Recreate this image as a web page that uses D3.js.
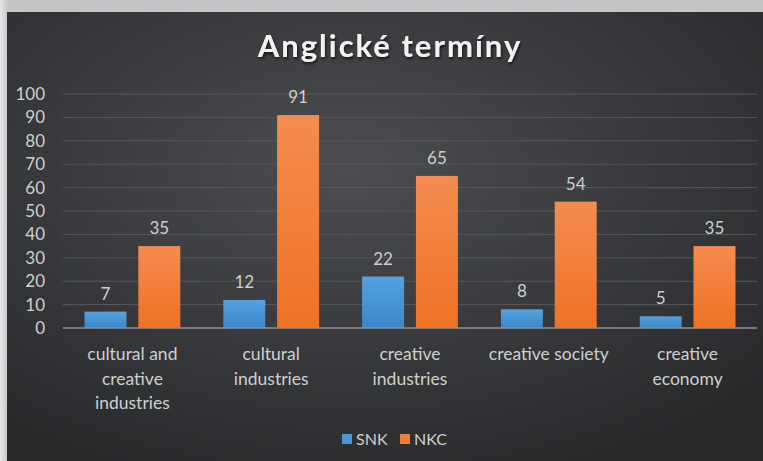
<!DOCTYPE html>
<html>
<head>
<meta charset="utf-8">
<script src="https://cdn.jsdelivr.net/npm/d3@7"></script>
<style>
  body { margin: 0; background: #c4c5c7; }
  svg { display: block; }
  text { font-family: Lato, "Open Sans", sans-serif; }
</style>
</head>
<body>
<div id="chart"></div>
<script>
var categories = [
  ["cultural and", "creative", "industries"],
  ["cultural", "industries"],
  ["creative", "industries"],
  ["creative society"],
  ["creative", "economy"]
];
var series = ["SNK", "NKC"];
var snk = [7, 12, 22, 8, 5];
var nkc = [35, 91, 65, 54, 35];
var yTicks = [0, 10, 20, 30, 40, 50, 60, 70, 80, 90, 100];

var svgWidth = 763, svgHeight = 461;
var margin = { top: 94, right: 6, bottom: 133, left: 63 };
var width = svgWidth - margin.left - margin.right;
var height = svgHeight - margin.top - margin.bottom;
var textColor = "#cfcfcf";

var svg = d3.select("#chart").append("svg")
  .attr("width", svgWidth)
  .attr("height", svgHeight);

var defs = svg.append("defs");

// panel background
var bg = defs.append("radialGradient").attr("id", "bg")
  .attr("cx", "45%").attr("cy", "35%").attr("r", "75%");
bg.append("stop").attr("offset", "0%").attr("stop-color", "#4b4d50");
bg.append("stop").attr("offset", "100%").attr("stop-color", "#26282a");

var side = defs.append("linearGradient").attr("id", "side")
  .attr("x1", 0).attr("x2", 1).attr("y1", 0).attr("y2", 0);
side.append("stop").attr("offset", "0%").attr("stop-color", "#e6e7e8");
side.append("stop").attr("offset", "100%").attr("stop-color", "#c4c5c7");

var gBlue = defs.append("linearGradient").attr("id", "gBlue")
  .attr("x1", 0).attr("x2", 0).attr("y1", 0).attr("y2", 1);
gBlue.append("stop").attr("offset", "0%").attr("stop-color", "#55a2df");
gBlue.append("stop").attr("offset", "100%").attr("stop-color", "#3a86c9");

var gOrange = defs.append("linearGradient").attr("id", "gOrange")
  .attr("x1", 0).attr("x2", 0).attr("y1", 0).attr("y2", 1);
gOrange.append("stop").attr("offset", "0%").attr("stop-color", "#f58c50");
gOrange.append("stop").attr("offset", "100%").attr("stop-color", "#ee7224");

var shadow = defs.append("filter").attr("id", "shadow")
  .attr("x", "-10%").attr("y", "-20%").attr("width", "130%").attr("height", "160%");
shadow.append("feDropShadow").attr("dx", 1).attr("dy", 2)
  .attr("stdDeviation", 1.5).attr("flood-color", "#000").attr("flood-opacity", 0.7);

svg.append("rect").attr("x", 0).attr("y", 0).attr("width", 8).attr("height", svgHeight)
  .attr("fill", "url(#side)");
svg.append("rect").attr("x", 7).attr("y", 12)
  .attr("width", svgWidth - 7).attr("height", svgHeight - 12)
  .attr("fill", "url(#bg)");

svg.append("text")
  .attr("x", 390).attr("y", 57)
  .attr("text-anchor", "middle")
  .attr("font-size", 31).attr("font-weight", "bold")
  .attr("letter-spacing", 2)
  .attr("fill", "#f2f2f2")
  .attr("filter", "url(#shadow)")
  .text("Anglické termíny");

var chartGroup = svg.append("g")
  .attr("transform", `translate(${margin.left}, ${margin.top})`);

var x0 = d3.scaleBand().domain(d3.range(categories.length)).range([0, width]).paddingInner(0.31).paddingOuter(0.155);
var x1 = d3.scaleBand().domain(series).range([0, x0.bandwidth()]).paddingInner(0.22);
var y = d3.scaleLinear().domain([0, 100]).range([height, 0]);

// gridlines
chartGroup.append("g").selectAll("line")
  .data(yTicks.slice(1))
  .enter().append("line")
  .attr("x1", 0).attr("x2", width)
  .attr("y1", d => y(d)).attr("y2", d => y(d))
  .attr("stroke", "#56585b").attr("stroke-width", 1);

// y axis labels
var leftAxis = d3.axisLeft(y).tickValues(yTicks).tickSize(0).tickPadding(18);
var yAxis = chartGroup.append("g").call(leftAxis);
yAxis.select(".domain").remove();
yAxis.selectAll("text").attr("font-size", 17).attr("fill", textColor)
  .attr("font-family", "Lato, 'Open Sans', sans-serif");

var groups = chartGroup.selectAll(".grp")
  .data(categories.map((c, i) => ({ i: i, vals: [snk[i], nkc[i]] })))
  .enter().append("g")
  .attr("transform", d => `translate(${x0(d.i)},0)`);

groups.selectAll("rect")
  .data(d => d.vals.map((v, k) => ({ key: series[k], v: v })))
  .enter().append("rect")
  .attr("x", d => x1(d.key))
  .attr("y", d => y(d.v))
  .attr("width", x1.bandwidth())
  .attr("height", d => height - y(d.v))
  .attr("fill", d => d.key === "SNK" ? "url(#gBlue)" : "url(#gOrange)");

groups.selectAll(".val")
  .data(d => d.vals.map((v, k) => ({ key: series[k], v: v })))
  .enter().append("text")
  .attr("x", d => x1(d.key) + x1.bandwidth() / 2)
  .attr("y", d => y(d.v) - 12)
  .attr("text-anchor", "middle")
  .attr("font-size", 17).attr("fill", textColor)
  .text(d => d.v);

// axis line
chartGroup.append("line")
  .attr("x1", 0).attr("x2", width)
  .attr("y1", height).attr("y2", height)
  .attr("stroke", "#8e8f91").attr("stroke-width", 1.5);

// category labels
groups.each(function (d) {
  var t = d3.select(this).append("text")
    .attr("text-anchor", "middle")
    .attr("font-size", 17.5).attr("fill", textColor);
  categories[d.i].forEach(function (line, j) {
    t.append("tspan").attr("x", x0.bandwidth() / 2)
      .attr("y", height + 32 + j * 24.5).text(line);
  });
});

// legend
var legend = svg.append("g").attr("transform", "translate(342,434)");
var lx = [0, 58];
series.forEach(function (s, k) {
  legend.append("rect").attr("x", lx[k]).attr("y", 0).attr("width", 10).attr("height", 10)
    .attr("fill", k === 0 ? "#4a96d8" : "#f07c3a");
  legend.append("text").attr("x", lx[k] + 14).attr("y", 11)
    .attr("font-size", 16).attr("fill", textColor).text(s);
});
</script>
</body>
</html>
